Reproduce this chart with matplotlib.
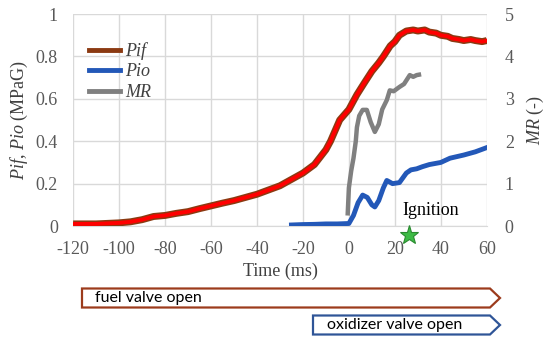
import matplotlib
matplotlib.use("Agg")
import matplotlib.pyplot as plt
from matplotlib.patches import Polygon
from matplotlib.lines import Line2D

SERIF = "Liberation Serif"
FONT_SIZE = 13
plt.rcParams["axes.unicode_minus"] = False
plt.rcParams["mathtext.fontset"] = "custom"
plt.rcParams["mathtext.it"] = SERIF + ":italic"
plt.rcParams["mathtext.rm"] = SERIF

# Pif (MPaG) vs time (ms)
pif_t = [-120, -110, -100, -95, -90, -85, -80, -75, -70, -65, -60, -55, -50, -45, -40, -35, -30, -25,
         -20, -15, -10, -8, -4, 0, 3.5, 7, 10, 13, 15, 18, 20, 22, 25, 28, 30, 33, 35, 38, 40, 43, 45,
         48, 50, 53, 55, 58, 60]
pif_v = [0.01, 0.01, 0.015, 0.02, 0.03, 0.045, 0.05, 0.06, 0.068, 0.082, 0.095, 0.108, 0.12, 0.135, 0.15,
         0.17, 0.19, 0.22, 0.25, 0.29, 0.36, 0.40, 0.50, 0.55, 0.62, 0.68, 0.73, 0.77, 0.80, 0.85, 0.87,
         0.90, 0.92, 0.925, 0.92, 0.925, 0.915, 0.91, 0.90, 0.895, 0.885, 0.88, 0.875, 0.88, 0.875, 0.87, 0.875]

# Pio (MPaG) vs time (ms)
pio_t = [-25, -20, -15, -10, -5, 0, 2, 4, 6, 8, 10, 11.3, 13, 15, 16.5, 19, 22, 25, 27, 29.5, 32, 35,
         40, 44, 50, 55, 60]
pio_v = [0.005, 0.007, 0.008, 0.01, 0.01, 0.012, 0.05, 0.11, 0.146, 0.135, 0.10, 0.09, 0.12, 0.18,
         0.215, 0.20, 0.205, 0.25, 0.265, 0.27, 0.28, 0.29, 0.30, 0.32, 0.335, 0.35, 0.37]

# MR (-) vs time (ms), right axis
mr_t = [-0.5, 0, 0.5, 1, 2, 3, 3.5, 4.5, 6, 7.8, 9.5, 11.3, 13, 14.5, 16.5, 17.8, 19.5, 22, 24,
        26.5, 28, 29.5, 30.5]
mr_v = [0.3, 0.9, 1.1, 1.3, 1.6, 2.0, 2.33, 2.6, 2.74, 2.74, 2.45, 2.22, 2.4, 2.75, 2.97, 3.2, 3.18,
        3.28, 3.35, 3.56, 3.52, 3.56, 3.57]

x_ticks = [-120, -100, -80, -60, -40, -20, 0, 20, 40, 60]
y_ticks = [0, 0.2, 0.4, 0.6, 0.8, 1]
y2_ticks = [0, 1, 2, 3, 4, 5]

RED = "#FF0000"
BROWN = "#8B3A12"
BLUE = "#2358B8"
GRAY = "#808080"

fig = plt.figure(figsize=(5.5, 3.43), dpi=100)
ax = fig.add_axes([0.133, 0.341, 0.752, 0.618])
ax2 = ax.twinx()

ax.plot(pif_t, pif_v, color=BROWN, lw=5, solid_capstyle="butt", zorder=3)
ax.plot(pif_t, pif_v, color=RED, lw=2.8, zorder=4)
ax.plot(pio_t, pio_v, color=BLUE, lw=3.5, zorder=3)
ax2.plot(mr_t, mr_v, color=GRAY, lw=3.2)

ax.set_xlim(-120, 60)
ax.set_ylim(0, 1)
ax2.set_ylim(0, 5)
ax.set_xticks(x_ticks)
ax.set_yticks(y_ticks)
ax.set_yticklabels(["0", "0.2", "0.4", "0.6", "0.8", "1"])
ax2.set_yticks(y2_ticks)
ax.grid(True, color="#D9D9D9", lw=1)
ax.set_axisbelow(True)

for a in (ax, ax2):
    for s in a.spines.values():
        s.set_visible(False)
    a.tick_params(length=0, labelsize=FONT_SIZE, labelcolor="#595959")
    for lab in a.get_xticklabels() + a.get_yticklabels():
        lab.set_family(SERIF)
ax.tick_params(axis="y", pad=11)
ax.tick_params(axis="x", pad=11)
ax2.tick_params(axis="y", pad=13)
ax.spines["bottom"].set_visible(True)
ax.spines["bottom"].set_color("#D9D9D9")

ax.set_xlabel("Time (ms)", family=SERIF, fontsize=FONT_SIZE, color="#404040", labelpad=3)
ax.set_ylabel(r"$\it{Pif}$, $\it{Pio}$ (MPaG)", family=SERIF, fontsize=FONT_SIZE, color="#404040",
              labelpad=4)
ax2.set_ylabel(r"$\it{MR}$ (-)", family=SERIF, fontsize=FONT_SIZE, color="#404040", labelpad=8)

handles = [Line2D([], [], color=BROWN, lw=3.5), Line2D([], [], color=BLUE, lw=3.5),
           Line2D([], [], color=GRAY, lw=3.5)]
leg = ax.legend(handles, ["Pif", "Pio", "MR"], loc="upper left", bbox_to_anchor=(0.0, 0.945),
                frameon=False, handlelength=1.7, handletextpad=0.3, labelspacing=0.2,
                prop={"family": SERIF, "style": "italic", "size": FONT_SIZE})
for t in leg.get_texts():
    t.set_color("#404040")

ax.text(35.5, 0.035, "Ignition", family=SERIF, fontsize=FONT_SIZE, ha="center", va="bottom",
        color="black", zorder=5)
ax.plot([26], [-0.04], marker="*", markersize=14, color="#3DBB45", markeredgecolor="#2A8A30",
        markeredgewidth=0.8, clip_on=False, zorder=6)

# valve-open arrow boxes (figure pixel coords, origin top-left)
W, H = 550.0, 343.0
def arrow_box(x0, x1, tip, y0, y1, edge, label, tx):
    pts = [(x0, y0), (x1, y0), (tip, (y0 + y1) / 2), (x1, y1), (x0, y1)]
    pts = [(px / W, 1 - py / H) for px, py in pts]
    fig.patches.append(Polygon(pts, closed=True, fill=True, facecolor="white", edgecolor=edge,
                               lw=1.6, transform=fig.transFigure))
    fig.text(tx / W, 1 - ((y0 + y1) / 2) / H, label, family="Lato", fontsize=11.5, va="center",
             ha="left", color="black")

arrow_box(82, 490, 500, 288.5, 307.5, "#9C3B1C", "fuel valve open", 95)
arrow_box(313, 490, 500, 315.5, 334.5, "#2F5597", "oxidizer valve open", 327)

fig.savefig("out.png", dpi=100)
